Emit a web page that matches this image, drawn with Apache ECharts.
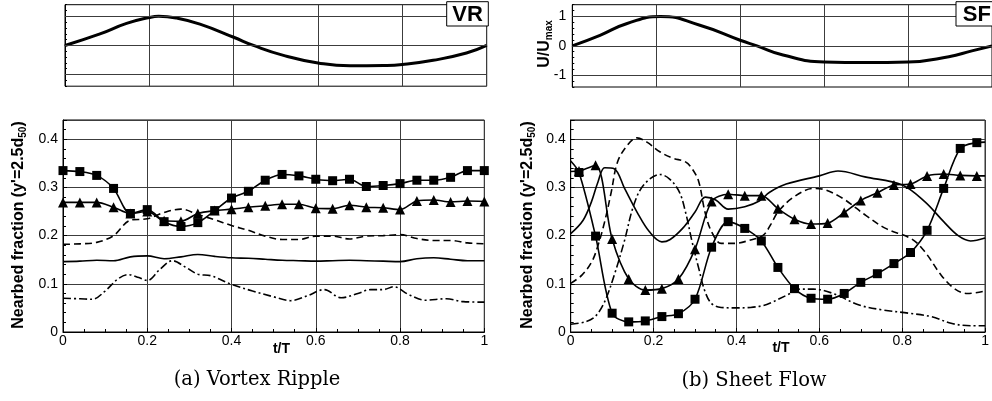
<!DOCTYPE html>
<html><head><meta charset="utf-8">
<script src="https://cdn.jsdelivr.net/npm/echarts@6/dist/echarts.min.js"></script>
<style>html,body{margin:0;padding:0;background:#fff}#c{width:992px;height:401px}</style>
</head><body><div id="c"></div>
<script>
// ---------- Data ----------
const X_TICKS = [0, 0.2, 0.4, 0.6, 0.8, 1];
const Y_TICKS = [0, 0.1, 0.2, 0.3, 0.4];
const U_TICKS = [-1, 0, 1];

// Top: free-stream velocity U/Umax
const VR_U_T = [0, 0.083, 0.146, 0.2, 0.222, 0.265, 0.32, 0.40, 0.447, 0.518, 0.60, 0.676, 0.755, 0.80, 0.873, 0.952, 1];
const VR_U   = [0, 0.395, 0.757, 0.96, 1.0, 0.94, 0.734, 0.282, 0, -0.34, -0.60, -0.70, -0.69, -0.655, -0.51, -0.26, 0];
const SF_U_T = [0, 0.066, 0.129, 0.21, 0.304, 0.40, 0.44, 0.502, 0.60, 0.70, 0.80, 0.897, 0.952, 1];
const SF_U   = [0, 0.36, 0.75, 1.0, 0.70, 0.19, 0, -0.31, -0.55, -0.57, -0.55, -0.37, -0.17, 0];

// Vortex ripple: marker series
const VR_T_MARK = [0,0.04,0.08,0.12,0.16,0.2,0.24,0.28,0.32,0.36,0.4,0.44,0.48,0.52,0.56,0.6,0.64,0.68,0.72,0.76,0.8,0.84,0.88,0.92,0.96,1];
const VR_SQUARE   = [0.335,0.333,0.325,0.298,0.246,0.254,0.229,0.219,0.227,0.252,0.278,0.292,0.315,0.327,0.324,0.317,0.314,0.317,0.302,0.304,0.308,0.315,0.315,0.321,0.335,0.335];
const VR_TRIANGLE = [0.269,0.269,0.269,0.259,0.246,0.250,0.231,0.230,0.246,0.252,0.255,0.259,0.262,0.265,0.265,0.257,0.256,0.263,0.259,0.258,0.254,0.272,0.274,0.270,0.272,0.271];
const VR_SOLID    = [0.146,0.147,0.149,0.148,0.156,0.158,0.152,0.156,0.161,0.157,0.154,0.153,0.151,0.149,0.148,0.147,0.148,0.149,0.148,0.147,0.146,0.152,0.154,0.151,0.148,0.148];
const VR_DASH     = [0.182,0.183,0.186,0.200,0.232,0.235,0.248,0.255,0.244,0.233,0.221,0.211,0.199,0.192,0.192,0.199,0.199,0.193,0.199,0.200,0.202,0.194,0.190,0.190,0.185,0.183];
const VR_DASHDOT_T = [0,0.04,0.07,0.10,0.13,0.155,0.18,0.20,0.23,0.26,0.29,0.32,0.35,0.40,0.45,0.50,0.54,0.58,0.62,0.66,0.70,0.73,0.76,0.785,0.82,0.86,0.91,0.95,1];
const VR_DASHDOT   = [0.070,0.069,0.068,0.085,0.110,0.119,0.113,0.107,0.130,0.148,0.135,0.120,0.117,0.099,0.085,0.073,0.065,0.075,0.088,0.071,0.080,0.088,0.088,0.094,0.078,0.066,0.069,0.063,0.062];

// Sheet flow: marker series (with curve ends at t=0 and t=1)
const SF_T_MARK = [0.02,0.06,0.10,0.14,0.18,0.22,0.26,0.30,0.34,0.38,0.42,0.46,0.50,0.54,0.58,0.62,0.66,0.70,0.74,0.78,0.82,0.86,0.90,0.94,0.98];
const SF_SQUARE   = [0.331,0.199,0.039,0.021,0.023,0.032,0.038,0.068,0.176,0.229,0.215,0.189,0.134,0.090,0.070,0.068,0.080,0.103,0.121,0.142,0.165,0.211,0.298,0.381,0.393];
const SF_SQUARE_ENDS = [0.355, 0.394];
const SF_TRIANGLE = [0.334,0.346,0.193,0.110,0.087,0.090,0.110,0.172,0.271,0.286,0.283,0.283,0.256,0.234,0.224,0.226,0.248,0.273,0.289,0.305,0.307,0.324,0.328,0.325,0.324];
const SF_TRIANGLE_ENDS = [0.333, 0.324];
const SF_SOLID_T = [0,0.03,0.05,0.066,0.082,0.105,0.13,0.16,0.19,0.22,0.24,0.27,0.30,0.325,0.35,0.38,0.42,0.455,0.48,0.52,0.60,0.645,0.71,0.80,0.855,0.90,0.935,0.965,1];
const SF_SOLID   = [0.204,0.232,0.270,0.312,0.341,0.339,0.298,0.249,0.208,0.187,0.192,0.215,0.249,0.280,0.274,0.255,0.260,0.272,0.290,0.307,0.324,0.334,0.322,0.305,0.270,0.229,0.200,0.189,0.195];
const SF_DASH_T = [0,0.027,0.051,0.066,0.082,0.098,0.113,0.137,0.16,0.184,0.215,0.246,0.277,0.293,0.309,0.324,0.34,0.363,0.395,0.434,0.465,0.484,0.50,0.538,0.586,0.61,0.657,0.712,0.76,0.823,0.855,0.894,0.926,0.957,1];
const SF_DASH   = [0.101,0.118,0.146,0.180,0.229,0.291,0.353,0.388,0.403,0.394,0.374,0.361,0.353,0.339,0.312,0.249,0.208,0.184,0.184,0.191,0.201,0.225,0.249,0.280,0.298,0.296,0.277,0.242,0.215,0.193,0.166,0.118,0.090,0.080,0.085];
const SF_DASHDOT_T = [0,0.035,0.059,0.082,0.105,0.129,0.152,0.176,0.215,0.238,0.262,0.277,0.293,0.309,0.324,0.34,0.363,0.395,0.434,0.465,0.484,0.523,0.554,0.586,0.633,0.696,0.752,0.815,0.87,0.918,0.965,1];
const SF_DASHDOT   = [0.016,0.021,0.032,0.063,0.118,0.187,0.263,0.305,0.327,0.318,0.291,0.249,0.187,0.132,0.084,0.059,0.051,0.050,0.051,0.055,0.061,0.077,0.089,0.089,0.080,0.056,0.046,0.039,0.032,0.018,0.013,0.013];

// ---------- Chart ----------
const FONT = 'Liberation Sans, Arial, sans-serif';
const GRID_COLOR = '#3c3c3c';
const pairs = (ts, vs) => ts.map((t, i) => [t, vs[i]]);
const withEnds = (ts, vs, ends) => [{value: [0, ends[0]], symbol: 'none'}].concat(pairs(ts, vs)).concat([{value: [1, ends[1]], symbol: 'none'}]);

const grids = [
  {left: 65, top: 4.7, width: 421.7, height: 81.5},
  {left: 63, top: 120, width: 421.3, height: 212},
  {left: 572.3, top: 4.7, width: 421.3, height: 82.3},
  {left: 570.7, top: 120, width: 423.5, height: 212}
].map(g => Object.assign(g, {show: true, borderColor: '#000', borderWidth: 1, backgroundColor: 'transparent', containLabel: false}));

function xAxis(gi, labels) {
  return {
    type: 'value', gridIndex: gi, min: X_TICKS[0], max: X_TICKS[X_TICKS.length - 1], interval: 0.2,
    axisLine: {show: true, lineStyle: {color: '#000', width: 1}},
    axisTick: {show: labels, inside: true, length: 4, lineStyle: {color: '#000'}},
    minorTick: {show: labels, splitNumber: 4, length: 3, lineStyle: {color: '#000'}},
    axisLabel: {show: labels, color: '#000', fontFamily: FONT, fontSize: 14, margin: 2},
    splitLine: {show: true, lineStyle: {color: GRID_COLOR, width: 1}}
  };
}
function yAxisBottom(gi) {
  return {
    type: 'value', gridIndex: gi, min: Y_TICKS[0], max: 0.44, interval: 0.1,
    axisLine: {show: true, lineStyle: {color: '#000', width: 1}},
    axisTick: {show: true, inside: true, length: 4, lineStyle: {color: '#000'}},
    minorTick: {show: true, splitNumber: 5, length: 3, lineStyle: {color: '#000'}},
    axisLabel: {color: '#000', fontFamily: FONT, fontSize: 14, margin: 5, showMaxLabel: false},
    splitLine: {show: true, lineStyle: {color: GRID_COLOR, width: 1}}
  };
}
function yAxisTop(gi, labels) {
  return {
    type: 'value', gridIndex: gi, min: -1.4, max: 1.4, interval: 0.2,
    axisLine: {show: true, lineStyle: {color: '#000', width: 1}},
    axisTick: {show: true, inside: true, length: 2, lineStyle: {color: '#000'}},
    axisLabel: {show: labels, color: '#000', fontFamily: FONT, fontSize: 14, margin: 6,
      formatter: v => (U_TICKS.indexOf(Math.round(v * 10) / 10) >= 0 ? String(Math.round(v)) : '')},
    splitLine: {show: false}
  };
}
const uGridLines = {
  silent: true, symbol: 'none', animation: false, label: {show: false},
  lineStyle: {color: GRID_COLOR, width: 1, type: 'solid'},
  data: U_TICKS.map(v => ({yAxis: v}))
};

function lineSeries(xi, data, opts) {
  return Object.assign({
    type: 'line', xAxisIndex: xi, yAxisIndex: xi, data: data, smooth: 0.35,
    showSymbol: false, symbol: 'none', animation: false, silent: true,
    lineStyle: {color: '#000', width: 1.6}, itemStyle: {color: '#000'}, z: 3
  }, opts || {});
}
const DASH = [7, 4];
const DASHDOT = [8, 3, 2, 3];

const series = [
  lineSeries(0, pairs(VR_U_T, VR_U), {lineStyle: {color: '#000', width: 3}, markLine: uGridLines, smooth: 0.5}),
  lineSeries(2, pairs(SF_U_T, SF_U), {lineStyle: {color: '#000', width: 3}, markLine: uGridLines, smooth: 0.5}),

  lineSeries(1, pairs(VR_T_MARK, VR_SOLID)),
  lineSeries(1, pairs(VR_T_MARK, VR_DASH), {lineStyle: {color: '#000', width: 1.6, type: DASH}}),
  lineSeries(1, pairs(VR_DASHDOT_T, VR_DASHDOT), {lineStyle: {color: '#000', width: 1.6, type: DASHDOT}}),
  lineSeries(1, pairs(VR_T_MARK, VR_TRIANGLE), {symbol: 'triangle', showSymbol: true, symbolSize: 10, z: 4, smooth: 0.3}),
  lineSeries(1, pairs(VR_T_MARK, VR_SQUARE), {symbol: 'rect', showSymbol: true, symbolSize: 9, z: 5, smooth: 0.3}),

  lineSeries(3, pairs(SF_SOLID_T, SF_SOLID)),
  lineSeries(3, pairs(SF_DASH_T, SF_DASH), {lineStyle: {color: '#000', width: 1.6, type: DASH}}),
  lineSeries(3, pairs(SF_DASHDOT_T, SF_DASHDOT), {lineStyle: {color: '#000', width: 1.6, type: DASHDOT}}),
  lineSeries(3, withEnds(SF_T_MARK, SF_TRIANGLE, SF_TRIANGLE_ENDS), {symbol: 'triangle', showSymbol: true, symbolSize: 10, z: 4, smooth: 0.3}),
  lineSeries(3, withEnds(SF_T_MARK, SF_SQUARE, SF_SQUARE_ENDS), {symbol: 'rect', showSymbol: true, symbolSize: 9, z: 5, smooth: 0.3})
];

const nameRich = {
  a: {fontFamily: FONT, fontWeight: 'bold', fontSize: 16, lineHeight: 19, fill: '#000'},
  s: {fontFamily: FONT, fontWeight: 'bold', fontSize: 10, lineHeight: 11, verticalAlign: 'bottom', fill: '#000'}
};
function rotText(x, y, text) {
  return {type: 'text', x: x, y: y, rotation: Math.PI / 2, silent: true, z: 10,
    style: {text: text, rich: nameRich, align: 'center', verticalAlign: 'middle', fill: '#000'}};
}
function plainText(x, y, text, font) {
  return {type: 'text', x: x, y: y, silent: true, z: 10,
    style: {text: text, font: font, align: 'center', verticalAlign: 'middle', fill: '#000'}};
}
function boxLabel(x, y, w, h, text) {
  return [
    {type: 'rect', shape: {x: x, y: y, width: w, height: h}, silent: true, z: 20,
      style: {fill: '#fff', stroke: '#000', lineWidth: 1}},
    {type: 'text', x: x + w / 2, y: y + h / 2 + 1, silent: true, z: 21,
      style: {text: text, font: 'bold 22px ' + FONT, align: 'center', verticalAlign: 'middle', fill: '#000'}}
  ];
}

const graphic = [
  rotText(18.5, 225, "{a|Nearbed fraction (y'=2.5d}{s|50}{a|)}"),
  rotText(527.5, 225, "{a|Nearbed fraction (y'=2.5d}{s|50}{a|)}"),
  rotText(545, 44, "{a|U/U}{s|max}"),
  plainText(281.5, 349.5, 't/T', 'bold 14px ' + FONT),
  plainText(781, 348.5, 't/T', 'bold 14px ' + FONT),
  plainText(257, 380, '(a) Vortex Ripple', '19.5px DejaVu Serif, serif'),
  plainText(754, 381, '(b) Sheet Flow', '19.5px DejaVu Serif, serif')
].concat(boxLabel(446.7, 1.7, 41.6, 24.3, 'VR')).concat(boxLabel(956, 1.7, 41.6, 24.3, 'SF'));

const option = {
  backgroundColor: '#fff',
  animation: false,
  grid: grids,
  xAxis: [xAxis(0, false), xAxis(1, true), xAxis(2, false), xAxis(3, true)],
  yAxis: [yAxisTop(0, false), yAxisBottom(1), yAxisTop(2, true), yAxisBottom(3)],
  series: series,
  graphic: graphic
};
const chart = echarts.init(document.getElementById('c'), null, {renderer: 'canvas'});
chart.setOption(option);
</script></body></html>
